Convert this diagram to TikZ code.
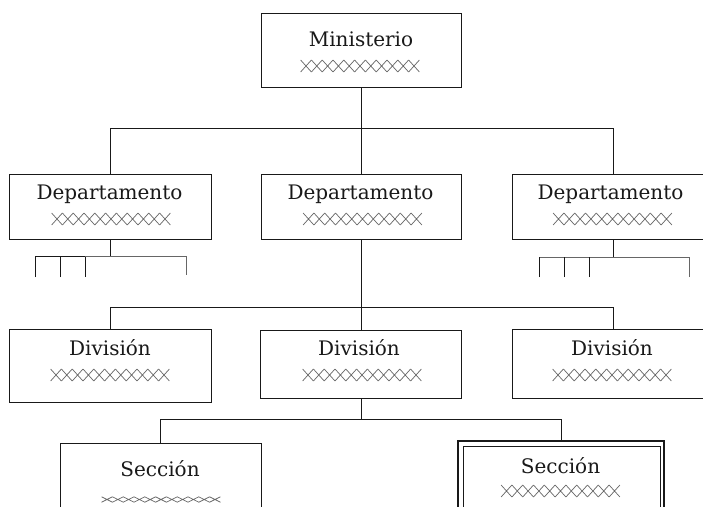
\documentclass[tikz,border=0pt]{standalone}
\usepackage{fontspec}
\setmainfont{DejaVu Serif}
\usepackage{tikz}
\definecolor{ink}{rgb}{0.1,0.1,0.1}
\definecolor{lgray}{rgb}{0.4,0.4,0.4}
\tikzset{lattice/.pic={
	\foreach \j in {0,...,10}
		\draw[line width=0.7pt,draw=lgray] (-59.4+\j*10.8,-6) -- ++(10.8,12) (-59.4+\j*10.8,6) -- ++(10.8,-12);
}}
\begin{document}
\begin{tikzpicture}[x=1pt,y=-1pt,-,line width=1pt,draw=ink]
	\tikzstyle{box}=[rectangle,draw=ink,line width=1pt,fill=white,inner sep=0pt]
	\tikzstyle{lbl}=[anchor=base,inner sep=0pt,text=ink,font=\fontsize{20}{24}\selectfont]
	\clip (0,0) rectangle (703,506);

	% boxes
	\node (min)[box,minimum width=200pt,minimum height=74pt] at (361,50) {};
	\node (dep1)[box,minimum width=202pt,minimum height=65pt] at (110,206.5) {};
	\node (dep2)[box,minimum width=200pt,minimum height=65pt] at (361,206.5) {};
	\node (dep3)[box,minimum width=202pt,minimum height=65pt] at (613,206.5) {};
	\node (div1)[box,minimum width=202pt,minimum height=73pt] at (110,365.5) {};
	\node (div2)[box,minimum width=201pt,minimum height=68pt] at (361,364) {};
	\node (div3)[box,minimum width=202pt,minimum height=69pt] at (613,363.5) {};
	\node (sec1)[box,minimum width=201pt,minimum height=90pt] at (160.5,488) {};
	\node (sec2)[box,line width=2pt,minimum width=206pt,minimum height=90pt] at (561,486) {};
	\node (sec2in)[box,minimum width=197pt,minimum height=80pt] at (561.5,486) {};

	% labels
	\node (minT)[lbl] at (361,46) {Ministerio};
	\node (dep1T)[lbl] at (109.5,199) {Departamento};
	\node (dep2T)[lbl] at (360.5,199) {Departamento};
	\node (dep3T)[lbl] at (610.5,199) {Departamento};
	\node (div1T)[lbl] at (110,355) {División};
	\node (div2T)[lbl] at (359,355) {División};
	\node (div3T)[lbl] at (612,355) {División};
	\node (sec1T)[lbl] at (160,476) {Sección};
	\node (sec2T)[lbl] at (560.5,473) {Sección};

	\pic at (360,66) {lattice};
	\pic at (111,219) {lattice};
	\pic at (362.5,219) {lattice};
	\pic at (612.5,219) {lattice};
	\pic at (110,375) {lattice};
	\pic at (362,375) {lattice};
	\pic at (612,375) {lattice};
	\pic at (560.5,491) {lattice};
	\pic[yscale=0.45] at (161,499.5) {lattice};

	% connectors
	\coordinate (busA) at (361,128);
	\coordinate (busB) at (361,307);
	\coordinate (busC) at (361,419);
	\draw (min) -- (busA);
	\draw (busA) -| (dep1);
	\draw (busA) -| (dep3);
	\draw (busA) -- (dep2);
	\draw (dep2) -- (busB);
	\draw (busB) -| (div1);
	\draw (busB) -| (div3);
	\draw (busB) -- (div2);
	\draw (div2) -- (busC);
	\draw (busC) -| (sec1);
	\draw (busC) -| (sec2);

	% stubs under the side departments
	\coordinate (subL) at (110,256);
	\coordinate (tl1) at (35,277);
	\coordinate (tl2) at (60,277);
	\coordinate (tl3) at (85,277);
	\coordinate (tl4) at (186,275);
	\draw (dep1) -- (subL);
	\draw (tl1) |- (tl3 |- subL) -- (tl3);
	\draw (tl2) -- (tl2 |- subL);
	\draw[lgray] (tl3 |- subL) -| (tl4);

	\coordinate (subR) at (613,257);
	\coordinate (tr1) at (539,277);
	\coordinate (tr2) at (564,277);
	\coordinate (tr3) at (589,277);
	\coordinate (tr4) at (689,277);
	\draw (dep3) -- (subR);
	\draw[lgray] (tr1 |- subR) -- (tr4 |- subR);
	\draw (tr1) -- (tr1 |- subR);
	\draw (tr2) -- (tr2 |- subR);
	\draw (tr3) -- (tr3 |- subR);
	\draw[lgray] (tr4) -- (tr4 |- subR);
\end{tikzpicture}
\end{document}
